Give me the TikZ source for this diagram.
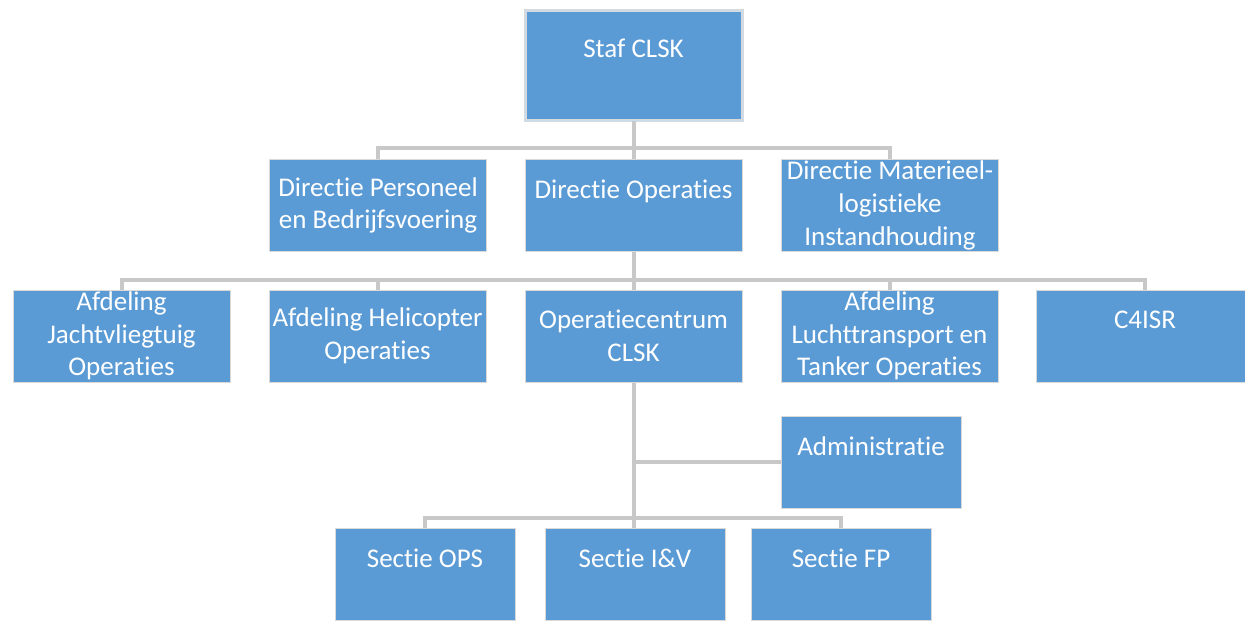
\documentclass[tikz,border=0pt]{standalone}
\usepackage{fontspec}
\setmainfont{Carlito}[Ligatures=NoCommon]
\definecolor{boxblue}{RGB}{91,155,213}
\definecolor{linkgray}{RGB}{200,200,200}

\begin{document}
\begin{tikzpicture}[x=0.5pt,y=-0.5pt,
  unit/.style={draw=black!15,line width=0.5pt,fill=boxblue,text=white,align=center,
    inner sep=0pt,minimum width=108.5pt,minimum height=46pt,
    font=\fontsize{13.5}{16.3}\selectfont},
  topunit/.style={unit,minimum height=55pt,draw=black!15,double=white!65!boxblue,double distance=0.5pt},
  subunit/.style={unit,minimum width=90pt},
  link/.style={linkgray,line width=2pt}]
\useasboundingbox (0,0) rectangle (1245,621);

\node[topunit] (staf) at (633.5,65) {Staf CLSK\\~};

\node[unit] (dirpb) at (378,205.5) {Directie Personeel\\en Bedrijfsvoering};
\node[unit] (dirops) at (633.5,205.5) {Directie Operaties\\~};
\node[unit] (dirmat) at (890,205.5) {Directie Materieel-\\logistieke\\Instandhouding};

\node[unit] (afdjv) at (121.5,336) {Afdeling\\Jachtvliegtuig\\Operaties};
\node[unit] (afdheli) at (377.5,336) {Afdeling Helicopter\\Operaties};
\node[unit] (opscen) at (633.5,336) {Operatiecentrum\\CLSK};
\node[unit] (afdlt) at (889.5,336) {Afdeling\\Luchttransport en\\Tanker Operaties};
\node[unit] (c4isr) at (1145,336) {C4ISR\\~};

\node[subunit] (admin) at (871,462) {Administratie\\~};

\node[subunit] (sectops) at (425,574) {Sectie OPS\\~};
\node[subunit] (sectiv) at (635,574) {Sectie I\&V\\~};
\node[subunit] (sectfp) at (841,574) {Sectie FP\\~};

\coordinate (bus1) at (633.5,148);
\coordinate (bus2) at (633.5,280);
\coordinate (bus3) at (633.5,518);

\draw[link] (staf.south) -- (dirops.north);
\draw[link] (dirpb.north) |- (bus1) -| (dirmat.north);
\draw[link] (dirops.south) -- (opscen.north);
\draw[link] (afdjv.north) |- (bus2) -| (c4isr.north);
\draw[link] (afdheli.north) |- (bus2) -| (afdlt.north);
\draw[link] (opscen.south) -- (opscen.south |- sectiv.north);
\draw[link] (admin.west) -- (opscen.south |- admin.west);
\draw[link] (sectops.north) |- (bus3) -| (sectfp.north);
\end{tikzpicture}
\end{document}
